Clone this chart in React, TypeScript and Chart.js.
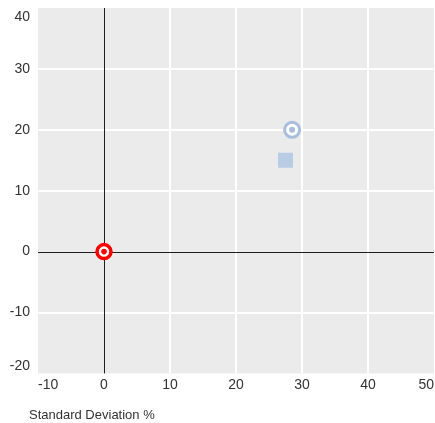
import React, { useEffect, useRef } from "react";
import { Chart, registerables } from "chart.js";

Chart.register(...registerables);

// Data
const seriesNames = ["Fund", "Category", "Risk-free"];
const stdDeviation = [28.5, 27.5, 0];
const meanReturn = [20, 15, 0];
const xTicks = [-10, 0, 10, 20, 30, 40, 50];
const yTicks = [-20, -10, 0, 10, 20, 30, 40];
const xTitle = "Standard Deviation %";

const FONT = "'Liberation Sans', Arial, sans-serif";
const TEXT = "#333333";
const BLUE_RING = "#a7bddb";
const BLUE_SQ = "#b8cce4";
const RED = "#ff0000";
const X_LABEL_GAP = 3;
const Y_LABEL_GAP = 8;

const bgPlugin = {
  id: "plotBg",
  afterLayout(chart: any) {
    if (chart.titleBlock) {
      chart.titleBlock.left = 29;
    }
  },
  beforeDraw(chart: any) {
    const { ctx, chartArea } = chart;
    ctx.save();
    ctx.fillStyle = "#ebebeb";
    ctx.fillRect(chartArea.left, chartArea.top, chartArea.right - chartArea.left, chartArea.bottom - chartArea.top);
    ctx.restore();
    // keep first/last labels inside the plot
    const ys = chart.scales.y.getLabelItems(chartArea);
    const n = ys.length;
    ys.forEach((it: any) => {
      it.options.translation = [chartArea.left - Y_LABEL_GAP, it.options.translation[1]];
    });
    if (n > 1) {
      const last = ys[n - 1].options;
      last.textBaseline = "top";
      last.translation = [last.translation[0], chartArea.top + 2];
      const first = ys[0].options;
      first.textBaseline = "bottom";
      first.translation = [first.translation[0], chartArea.bottom];
    }
    const xs = chart.scales.x.getLabelItems(chartArea);
    const m = xs.length;
    xs.forEach((it: any) => {
      it.options.translation = [it.options.translation[0], chartArea.bottom + X_LABEL_GAP];
    });
    if (m > 1) {
      const f = xs[0].options;
      f.textAlign = "left";
      f.translation = [chartArea.left, f.translation[1]];
      const l = xs[m - 1].options;
      l.textAlign = "right";
      l.translation = [chartArea.right, l.translation[1]];
    }
  },
};

const zeroLines = {
  id: "zeroLines",
  beforeDatasetsDraw(chart: any) {
    const { ctx, chartArea, scales } = chart;
    const x0 = Math.round(scales.x.getPixelForValue(0)) + 0.5;
    const y0 = Math.round(scales.y.getPixelForValue(0)) + 0.5;
    ctx.save();
    ctx.strokeStyle = "#1e1e1e";
    ctx.lineWidth = 1;
    ctx.beginPath();
    ctx.moveTo(x0, chartArea.top);
    ctx.lineTo(x0, chartArea.bottom);
    ctx.moveTo(chartArea.left, y0);
    ctx.lineTo(chartArea.right, y0);
    ctx.stroke();
    ctx.restore();
  },
};

export default function App() {
  const ref = useRef<HTMLCanvasElement>(null);
  useEffect(() => {
    if (!ref.current) return;
    const pt = (i: number) => [{ x: stdDeviation[i], y: meanReturn[i] }];
    const gridColor = (ctx: any) => {
      const v = ctx.tick && ctx.tick.value;
      const sc = ctx.scale;
      if (v === 0 || v === sc.min || v === sc.max) return "rgba(0,0,0,0)";
      return "#ffffff";
    };
    const chart = new Chart(ref.current, {
      type: "scatter",
      data: {
        datasets: [
          { label: seriesNames[0] + " center", data: pt(0), pointStyle: "circle", pointRadius: 3, backgroundColor: BLUE_RING, borderWidth: 0 },
          { label: seriesNames[0], data: pt(0), pointStyle: "circle", pointRadius: 7.5, backgroundColor: "#ffffff", borderColor: BLUE_RING, borderWidth: 3 },
          { label: seriesNames[1], data: pt(1), pointStyle: "rect", pointRadius: 10.6, backgroundColor: BLUE_SQ, borderWidth: 0 },
          { label: seriesNames[2] + " center", data: pt(2), pointStyle: "circle", pointRadius: 2.8, backgroundColor: RED, borderWidth: 0 },
          { label: seriesNames[2], data: pt(2), pointStyle: "circle", pointRadius: 7, backgroundColor: "#ffffff", borderColor: RED, borderWidth: 3.5 },
        ] as any,
      },
      options: {
        animation: false,
        responsive: true,
        maintainAspectRatio: false,
        events: [],
        layout: { autoPadding: false, padding: { left: 0, top: 8, right: 1, bottom: 0 } },
        plugins: {
          legend: { display: false },
          tooltip: { enabled: false },
          title: {
            display: true,
            text: xTitle,
            position: "bottom",
            align: "start",
            color: TEXT,
            font: { family: FONT, size: 13, weight: "normal", lineHeight: 1.2 },
            padding: { top: 12, bottom: 0 },
          },
        },
        scales: {
          x: {
            type: "linear",
            min: xTicks[0],
            max: xTicks[xTicks.length - 1],
            afterBuildTicks: (s: any) => { s.ticks = xTicks.map((v) => ({ value: v })); },
            afterFit: (s: any) => { s.height = 22; s.paddingLeft = 0; s.paddingRight = 0; },
            grid: { color: gridColor, lineWidth: 2, drawTicks: false },
            border: { display: false },
            ticks: { align: "inner", padding: 0, color: TEXT, font: { family: FONT, size: 14 }, maxRotation: 0, autoSkip: false },
          },
          y: {
            type: "linear",
            min: yTicks[0],
            max: yTicks[yTicks.length - 1],
            afterBuildTicks: (s: any) => { s.ticks = yTicks.map((v) => ({ value: v })); },
            afterFit: (s: any) => { s.width = 38; s.paddingTop = 0; s.paddingBottom = 0; },
            grid: { color: gridColor, lineWidth: 2, drawTicks: false },
            border: { display: false },
            ticks: { padding: 0, color: TEXT, font: { family: FONT, size: 14 }, autoSkip: false },
          },
        },
      } as any,
      plugins: [bgPlugin, zeroLines],
    });
    return () => chart.destroy();
  }, []);
  return (
    <div style={{ position: "absolute", left: 0, top: 0, width: 435, height: 423 }}>
      <canvas ref={ref} />
    </div>
  );
}
